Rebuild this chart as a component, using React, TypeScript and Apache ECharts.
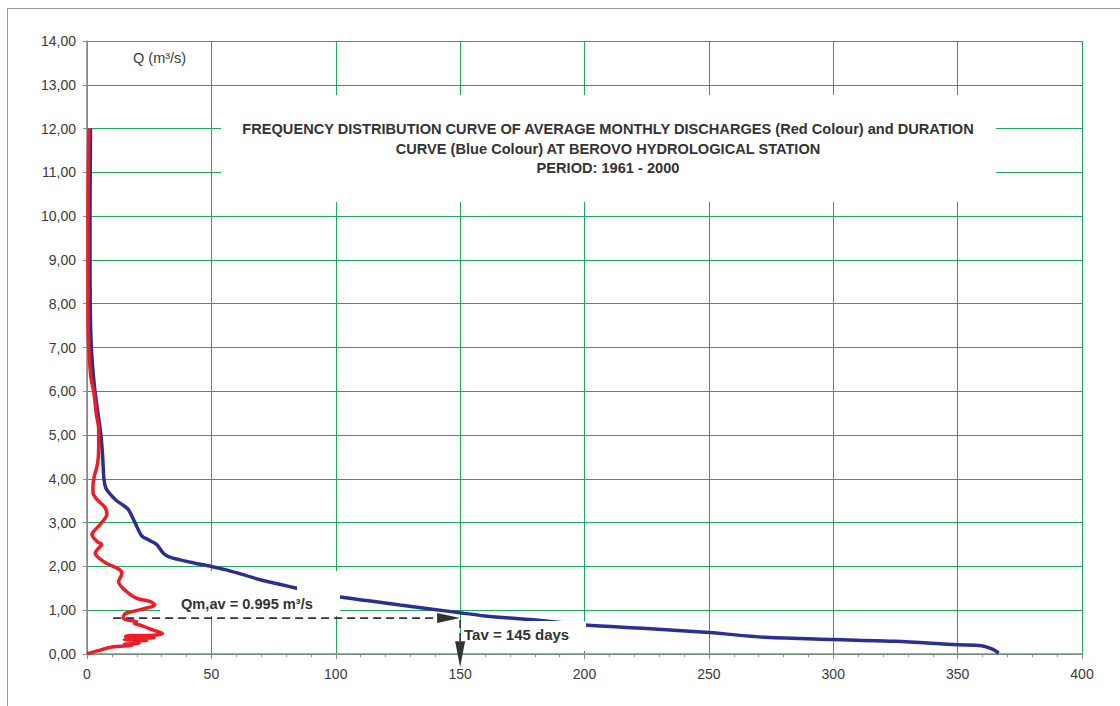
import React, { useEffect, useRef } from "react";
import * as echarts from "echarts";

// Duration curve (blue): days vs discharge
const blueDays = [1.4, 1.3, 1.2, 1.2, 1.3, 1.6, 2.2, 3.2, 4.4, 5.6, 6.3, 6.8, 7.5, 8.6, 10.5, 11.9, 14.5, 16.6, 19.3, 22, 25, 28, 30.7, 33, 37.4, 43, 50, 56, 64, 70, 77, 84.3, 92, 101.7, 114, 125.8, 138, 150, 160, 170, 178, 190, 200.3, 225, 250, 273, 300, 325, 350, 359.6, 364, 366.5];
const blueQ = [12.0, 11.0, 10.0, 9.0, 8.0, 7.2, 6.6, 6.0, 5.5, 5.0, 4.5, 4.0, 3.8, 3.7, 3.58, 3.5, 3.4, 3.3, 3.0, 2.7, 2.6, 2.5, 2.3, 2.22, 2.15, 2.08, 2.0, 1.92, 1.79, 1.69, 1.6, 1.5, 1.4, 1.3, 1.21, 1.12, 1.03, 0.94, 0.87, 0.82, 0.79, 0.72, 0.66, 0.58, 0.49, 0.38, 0.33, 0.29, 0.21, 0.19, 0.11, 0.02];

// Frequency distribution curve (red): frequency vs discharge
const redFreq = [0.8, 0.5, 0.4, 0.4, 0.4, 0.5, 1.0, 1.7, 2.7, 3.7, 4.7, 4.7, 4.3, 2.9, 2.4, 2.4, 4, 7.3, 8, 5.3, 2.7, 2, 4, 6, 4.7, 3.3, 6.7, 13.3, 14, 12.7, 16, 20, 25.3, 27.3, 24, 19, 15.3, 14.5, 16.5, 20, 19, 22, 25, 28, 30.3, 27, 18, 15.5, 22, 27, 18, 15, 24, 19, 21, 15, 18, 10, 4.1, 0];
const redQ = [12.0, 11.0, 10.0, 9.0, 8.0, 7.3, 6.7, 6.27, 6.0, 5.5, 5.12, 4.74, 4.36, 4.05, 3.83, 3.68, 3.53, 3.34, 3.19, 2.96, 2.8, 2.73, 2.57, 2.5, 2.42, 2.3, 2.11, 1.92, 1.84, 1.65, 1.42, 1.27, 1.2, 1.12, 1.05, 0.98, 0.92, 0.82, 0.77, 0.74, 0.7, 0.65, 0.58, 0.52, 0.47, 0.43, 0.42, 0.4, 0.39, 0.37, 0.35, 0.33, 0.31, 0.28, 0.25, 0.22, 0.2, 0.16, 0.07, 0];

// Annotation positions as drawn (data units)
const arrowLevelQ = 0.82;
const arrowStartDay = 10.5;
const arrowDay = 150;
const arrowBottomQ = -0.3;

const titleLines = [
  "FREQUENCY DISTRIBUTION CURVE OF AVERAGE MONTHLY DISCHARGES (Red Colour) and DURATION",
  "CURVE (Blue Colour) AT BEROVO HYDROLOGICAL STATION",
  "PERIOD: 1961 - 2000",
];
const qmLabel = "Qm,av = 0.995 m³/s";
const tavLabel = "Tav = 145 days";
const yUnitLabel = "Q (m³/s)";

const FONT = "'Liberation Sans', Arial, Helvetica, sans-serif";
const GREEN = "#22a85c";
const GRAY = "#8a8a8a";

export default function App() {
  const ref = useRef<HTMLDivElement>(null);
  useEffect(() => {
    if (!ref.current) return;
    const chart = echarts.init(ref.current, null, { renderer: "svg" });
    const blueData = blueDays.map((d, i) => [d, blueQ[i]]);
    const redData = redFreq.map((d, i) => [d, redQ[i]]);
    chart.setOption({
      animation: false,
      backgroundColor: "#ffffff",
      grid: { left: 87, right: 38, top: 41, bottom: 52 },
      xAxis: {
        type: "value",
        min: 0,
        max: 400,
        interval: 50,
        axisLine: { show: true, onZero: false, lineStyle: { color: GRAY, width: 1.5 } },
        axisTick: { show: true, length: 5, lineStyle: { color: GRAY } },
        minorTick: { show: true, splitNumber: 5, length: 3, lineStyle: { color: GRAY } },
        axisLabel: { color: "#3a3a3a", fontSize: 14, margin: 13, fontFamily: FONT },
        splitLine: { show: true, lineStyle: { color: GREEN, width: 1 } },
      },
      yAxis: {
        type: "value",
        min: 0,
        max: 14,
        interval: 1,
        axisLine: { show: true, onZero: false, lineStyle: { color: GRAY, width: 1.5 } },
        axisTick: { show: true, length: 4, lineStyle: { color: GRAY } },
        axisLabel: {
          color: "#3a3a3a",
          fontSize: 14,
          margin: 11,
          fontFamily: FONT,
          formatter: (v: number) => v.toFixed(2).replace(".", ","),
        },
        splitLine: { show: true, lineStyle: { color: GREEN, width: 1 } },
      },
      series: [
        {
          type: "line",
          data: blueData,
          showSymbol: false,
          smooth: 0.3,
          lineStyle: { color: "#2b2f8f", width: 3.5 },
          z: 3,
        },
        {
          type: "line",
          data: redData,
          showSymbol: false,
          smooth: 0.3,
          lineStyle: { color: "#ee1c25", width: 3.5 },
          z: 4,
        },
      ],
    });

    const px = (x: number, y: number) =>
      chart.convertToPixel({ xAxisIndex: 0, yAxisIndex: 0 }, [x, y]) as number[];
    const a0 = px(arrowStartDay, arrowLevelQ);
    const a1 = px(arrowDay, arrowLevelQ);
    const a2 = px(arrowDay, arrowBottomQ);
    const dashStyle = { stroke: "#333333", lineWidth: 1.6, lineDash: [8, 5] };

    chart.setOption({
      graphic: [
        // outer frame
        { type: "line", shape: { x1: 7, y1: 8.5, x2: 1120, y2: 8.5 }, style: { stroke: "#9a9a9a", lineWidth: 1 }, z: 200 },
        { type: "line", shape: { x1: 7.5, y1: 8, x2: 7.5, y2: 706 }, style: { stroke: "#9a9a9a", lineWidth: 1 }, z: 200 },
        // title box
        { type: "rect", shape: { x: 221, y: 95, width: 775, height: 107 }, style: { fill: "#ffffff" }, z: 100 },
        ...titleLines.map((t, i) => ({
          type: "text",
          x: 608,
          y: 129 + i * 19.5,
          z: 101,
          style: {
            text: t,
            fill: "#333333",
            font: `bold 14.6px ${FONT}`,
            textAlign: "center",
            textVerticalAlign: "middle",
          },
        })),
        // unit label
        {
          type: "text",
          x: 133,
          y: 58,
          z: 101,
          style: { text: yUnitLabel, fill: "#3a3a3a", font: `14.5px ${FONT}`, textAlign: "left", textVerticalAlign: "middle" },
        },
        // Qm box (below curves, above grid) + cover for blue curve + label
        { type: "rect", shape: { x: 160, y: 571, width: 180, height: 45 }, style: { fill: "#ffffff" }, z: 1 },
        { type: "rect", shape: { x: 297, y: 583, width: 43, height: 33 }, style: { fill: "#ffffff" }, z: 100 },
        {
          type: "text",
          x: 181,
          y: 604,
          z: 101,
          style: { text: qmLabel, fill: "#333333", font: `bold 14.6px ${FONT}`, textAlign: "left", textVerticalAlign: "middle" },
        },
        // Tav box + label
        { type: "rect", shape: { x: 463, y: 621, width: 123, height: 30 }, style: { fill: "#ffffff" }, z: 100 },
        {
          type: "text",
          x: 464,
          y: 634,
          z: 101,
          style: { text: tavLabel, fill: "#333333", font: `bold 15px ${FONT}`, textAlign: "left", textVerticalAlign: "middle" },
        },
        // horizontal dashed arrow
        { type: "line", shape: { x1: a0[0], y1: a0[1], x2: a1[0] - 18, y2: a1[1] }, style: dashStyle, z: 102 },
        {
          type: "polygon",
          shape: { points: [[a1[0] - 23, a1[1] - 5], [a1[0], a1[1]], [a1[0] - 23, a1[1] + 5]] },
          style: { fill: "#333333" },
          z: 102,
        },
        // vertical dashed arrow
        { type: "line", shape: { x1: a1[0], y1: a1[1] + 2, x2: a1[0], y2: a2[1] - 20 }, style: dashStyle, z: 102 },
        {
          type: "polygon",
          shape: { points: [[a2[0] - 5, a2[1] - 26], [a2[0], a2[1]], [a2[0] + 5, a2[1] - 26]] },
          style: { fill: "#333333" },
          z: 102,
        },
      ],
    });
    return () => chart.dispose();
  }, []);
  return (
    <div
      ref={ref}
      style={{ position: "fixed", left: 0, top: 0, width: 1120, height: 706, background: "#fff" }}
    />
  );
}
